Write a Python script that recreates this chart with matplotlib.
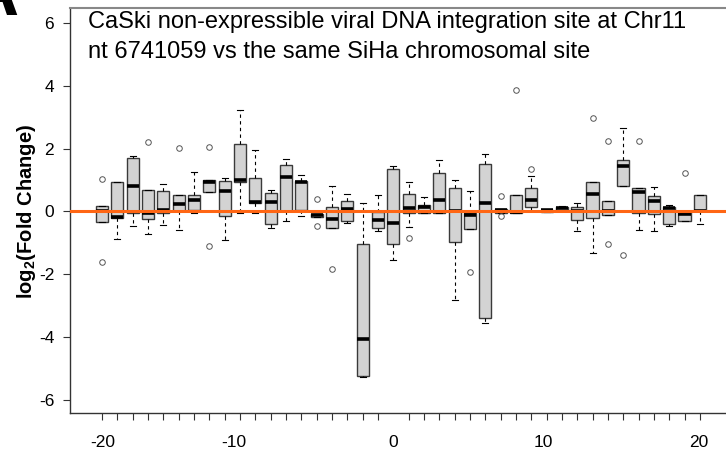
import matplotlib.pyplot as plt
import numpy as np

plt.rcParams['font.family'] = ['Liberation Sans', 'DejaVu Sans']
plt.rcParams['mathtext.fontset'] = 'custom'
plt.rcParams['mathtext.rm'] = 'Liberation Sans'
plt.rcParams['mathtext.bf'] = 'Liberation Sans:bold'
plt.rcParams['mathtext.default'] = 'bf'

# distance from the integration site (one box per position)
positions = np.arange(-19, 21)

# boxplot statistics, log2 fold change
whislo = [-0.33, -0.89, -0.47, -0.72, -0.44, -0.60, -0.05, 0.63, -0.90, -0.04,
          -0.04, -0.53, -0.30, -0.15, -0.19, -0.52, -0.36, -5.28, -0.62, -1.55,
          -0.51, -0.04, -0.04, -2.81, -0.57, -3.56, -0.04, -0.04, 0.01, -0.02,
          0.01, -0.62, -1.31, -0.11, 0.82, -0.60, -0.63, -0.48, -0.31, -0.41]
q1 = [-0.33, -0.20, -0.04, -0.23, -0.04, 0.00, 0.04, 0.63, -0.15, 0.94,
      0.26, -0.39, 0.00, 0.04, -0.19, -0.52, -0.29, -5.23, -0.53, -1.04,
      -0.04, -0.04, -0.04, -0.97, -0.57, -3.38, -0.04, -0.04, 0.13, -0.02,
      0.01, -0.26, -0.22, -0.11, 0.82, -0.04, -0.07, -0.39, -0.31, 0.01]
med = [0.00, -0.17, 0.80, -0.05, 0.03, 0.23, 0.35, 0.93, 0.65, 1.00,
       0.31, 0.31, 1.11, 0.93, -0.12, -0.23, 0.09, -4.05, -0.26, -0.36,
       0.10, 0.15, 0.37, 0.00, -0.12, 0.26, 0.04, -0.02, 0.36, 0.03,
       0.10, 0.01, 0.57, 0.00, 1.45, 0.63, 0.34, 0.10, -0.09, 0.02]
q3 = [0.18, 0.94, 1.69, 0.68, 0.65, 0.51, 0.52, 1.01, 0.98, 2.15,
      1.06, 0.60, 1.49, 0.97, -0.07, 0.14, 0.34, -1.05, -0.03, 1.34,
      0.55, 0.19, 1.23, 0.75, -0.06, 1.50, 0.07, 0.52, 0.74, 0.05,
      0.13, 0.15, 0.94, 0.34, 1.64, 0.74, 0.49, 0.13, -0.02, 0.53]
whishi = [0.18, 0.94, 1.75, 0.68, 0.87, 0.51, 1.27, 1.01, 1.06, 3.22,
          1.95, 0.68, 1.68, 1.15, -0.07, 0.82, 0.57, 0.28, 0.52, 1.44,
          0.94, 0.45, 1.64, 1.00, 0.65, 1.82, 0.07, 0.52, 1.13, 0.05,
          0.17, 0.27, 0.94, 0.34, 2.64, 0.74, 0.78, 0.21, -0.02, 0.53]
outliers = {0: [1.04, -1.62], 3: [2.21], 5: [2.01], 7: [2.04, -1.10],
            14: [0.39, -0.45], 15: [-1.83], 20: [-0.85], 24: [-1.94],
            26: [0.49, -0.15], 27: [3.88], 28: [1.35], 32: [2.97],
            33: [2.25, -1.03], 34: [-1.40], 35: [2.25], 38: [1.23]}

tick_labels = ['-20', '-10', '0', '10', '20']
tick_label_pos = [-18.94, -10.39, 0, 9.77, 19.89]
y_ticks = [-6, -4, -2, 0, 2, 4, 6]

stats = []
for i in range(len(positions)):
    stats.append(dict(med=med[i], q1=q1[i], q3=q3[i], whislo=whislo[i],
                      whishi=whishi[i], fliers=outliers.get(i, [])))

fig = plt.figure(figsize=(7.26, 4.54), dpi=100)
ax = fig.add_axes([69.5 / 726, 41.5 / 454, 662.5 / 726, 405 / 454])

ax.bxp(stats, positions=positions, widths=0.8, patch_artist=True,
       capwidths=0.4,
       boxprops=dict(facecolor='#d3d3d3', edgecolor='#3a3a3a', linewidth=1.0),
       medianprops=dict(color='black', linewidth=2.6, solid_capstyle='butt'),
       whiskerprops=dict(color='black', linestyle=(0, (3, 3)), linewidth=0.8),
       capprops=dict(color='black', linewidth=0.8),
       flierprops=dict(marker='o', markerfacecolor='none', markeredgecolor='#555555',
                       markersize=4, markeredgewidth=0.7))

ax.axhline(0, color='#ff6614', linewidth=2.2, zorder=5)

ax.set_xlim(-21.12, 22.09)
ax.set_ylim(-6.40, 6.49)

ax.set_xticks(positions, minor=True)
ax.set_xticks(tick_label_pos)
ax.set_xticklabels(tick_labels)
ax.set_yticks(y_ticks)
ax.set_yticklabels([str(v) for v in y_ticks])
ax.tick_params(axis='x', which='major', length=0, pad=16, labelsize=12.5)
ax.tick_params(axis='x', which='minor', length=5, width=0.8, color='#333333')
ax.tick_params(axis='y', length=5, width=0.8, color='#333333', pad=6, labelsize=12.5)

for s in ['left', 'bottom']:
    ax.spines[s].set_color('#333333')
    ax.spines[s].set_linewidth(1.0)
ax.spines['top'].set_color('#888888')
ax.spines['top'].set_linewidth(1.5)
ax.spines['right'].set_visible(False)

fig.text(88 / 726, 1 - 22 / 454, 'CaSki non-expressible viral DNA integration site at Chr11',
         fontsize=17, va='center', ha='left')
fig.text(88 / 726, 1 - 52 / 454, 'nt 6741059 vs the same SiHa chromosomal site',
         fontsize=17, va='center', ha='left')
fig.text(27 / 726, 1 - 211.5 / 454, r'log$_2$(Fold Change)', rotation=90,
         fontsize=14.5, fontweight='bold', va='center', ha='center')
# panel letter, mostly cropped off in the original
fig.text(18 / 726, 1 - 15 / 454, 'A', fontsize=52, fontweight='bold',
         ha='right', va='baseline')

fig.savefig('out.png', dpi=100)
